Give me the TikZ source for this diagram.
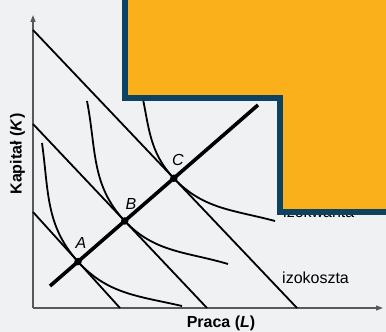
\documentclass[tikz,border=0pt]{standalone}
\usepackage{fontspec}
\setmainfont{Liberation Sans}
\usetikzlibrary{arrows.meta}

\definecolor{bggray}{RGB}{240,241,242}
\definecolor{boxorange}{RGB}{249,176,27}
\definecolor{boxnavy}{RGB}{13,66,96}

\begin{document}
\begin{tikzpicture}[x=1pt, y=1pt,
    every node/.style={font=\fontsize{16}{18}\selectfont, inner sep=0pt},
    axis/.style={draw=black!65, line width=1.2pt, -{Triangle[length=7pt, width=5pt]}},
    isocost/.style={line width=1.8pt},
    isoquant/.style={line width=1.8pt},
    expline/.style={line width=3.6pt},
    dot/.style={circle, fill=black, minimum size=7.5pt, inner sep=0pt},
    lbl/.style={font=\fontsize{16}{18}\selectfont\itshape}
  ]
    \useasboundingbox (0,0) rectangle (386,332);
    \fill[bggray] (0,0) rectangle (386,332);
    \clip (0,0) rectangle (386,332);

    % axes
    \coordinate (org) at (33,24);
    \coordinate (ytip) at (33,317);
    \coordinate (xtip) at (383,24);
    \draw[axis] (org) -- (ytip);
    \draw[axis] (org) -- (xtip);
    \node[font=\fontsize{16}{18}\selectfont\bfseries, anchor=base] (xlab) at (221,4) {Praca (\textit{L})};
    \node[font=\fontsize{16}{18}\selectfont\bfseries, rotate=90] (ylab) at (17.5,178) {Kapitał (\textit{K})};

    % isocost lines
    \coordinate (k1s) at (33,302);  \coordinate (k1e) at (297,24);
    \coordinate (k2s) at (33,208);  \coordinate (k2e) at (207,24);
    \coordinate (k3s) at (33,120);  \coordinate (k3e) at (120,24);
    \draw[isocost] (k1s) -- (k1e);
    \draw[isocost] (k2s) -- (k2e);
    \draw[isocost] (k3s) -- (k3e);

    % expansion path and tangency points
    \coordinate (e0) at (50,46);
    \coordinate (e1) at (258,227);
    \coordinate (A) at (intersection of e0--e1 and k3s--k3e);
    \coordinate (B) at (intersection of e0--e1 and k2s--k2e);
    \coordinate (C) at (intersection of e0--e1 and k1s--k1e);

    % isoquants
    \coordinate (qa) at (42,189);  \coordinate (qa2) at (182,26);
    \coordinate (qb) at (87,231);  \coordinate (qb2) at (228,68);
    \coordinate (qc) at (139,250); \coordinate (qc2) at (275,111);
    \draw[isoquant] (qa) to[out=-82, in=132.2] (A) to[out=-47.8, in=167] (qa2);
    \draw[isoquant] (qb) to[out=-79, in=133.4] (B) to[out=-46.6, in=163.5] (qb2);
    \draw[isoquant] (qc) to[out=-75, in=133.5] (C) to[out=-46.5, in=165] (qc2);

    \draw[expline] (e0) -- (e1);
    \node[dot] (dA) at (A) {};
    \node[dot] (dB) at (B) {};
    \node[dot] (dC) at (C) {};
    \node[lbl] (lA) at (81,89) {A};
    \node[lbl] (lB) at (131,128) {B};
    \node[lbl] (lC) at (178,172) {C};

    \node[anchor=base west] (cost) at (282,48) {izokoszta};
    \node[anchor=base west] (quant) at (283,114) {izokwanta};

    % covering box
    \draw[boxnavy, fill=boxorange, line width=5.5pt, line join=miter]
      (124.75,345) -- (124.75,233.75) -- (279.75,233.75) -- (279.75,119.75)
      -- (395,119.75) -- (395,345) -- cycle;
  \end{tikzpicture}
\end{document}
